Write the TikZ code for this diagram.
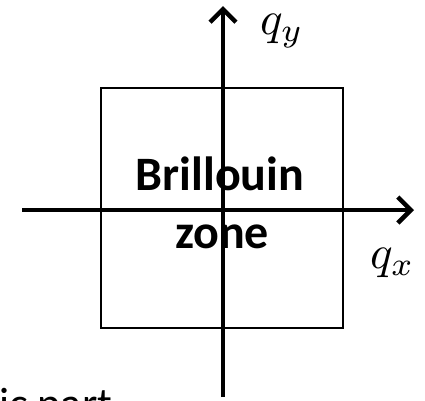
\documentclass[tikz,border=0pt]{standalone}
\usepackage{fontspec}
\setmainfont{Carlito}
\usetikzlibrary{arrows.meta}
\begin{document}
\begin{tikzpicture}[x=1pt,y=-1pt,
  axis/.style={line width=4.5pt,-{Straight Barb[length=13pt,width=26pt,line width=4.5pt]}},
  zonebox/.style={draw,line width=1.5pt},
  lbl/.style={inner sep=0pt},
  zonetext/.style={inner sep=0pt,font=\fontsize{48}{48}\selectfont\bfseries,align=center}]
\useasboundingbox (0,0) rectangle (425,400);
\draw[zonebox] (101,88) rectangle (343,328);
\coordinate (xs) at (22,210);
\coordinate (xe) at (414,210);
\coordinate (ys) at (223,397);
\coordinate (ye) at (223,6);
\draw[axis] (xs) -- (xe);
\draw[axis] (ys) -- (ye);
\node[zonetext,anchor=base] (b1) at (220,190) {Brillouin};
\node[zonetext,anchor=base] (b2) at (222,248) {zone};
\node[lbl,anchor=base west] (qy) at (260,34) {\scalebox{4.7}{$q_y$}};
\node[lbl,anchor=base west] (qx) at (370,268) {\scalebox{4.7}{$q_x$}};
\node[inner sep=0pt,anchor=base west,font=\fontsize{44}{44}\selectfont] (ip) at (-1,418) {ic part};
\end{tikzpicture}
\end{document}
